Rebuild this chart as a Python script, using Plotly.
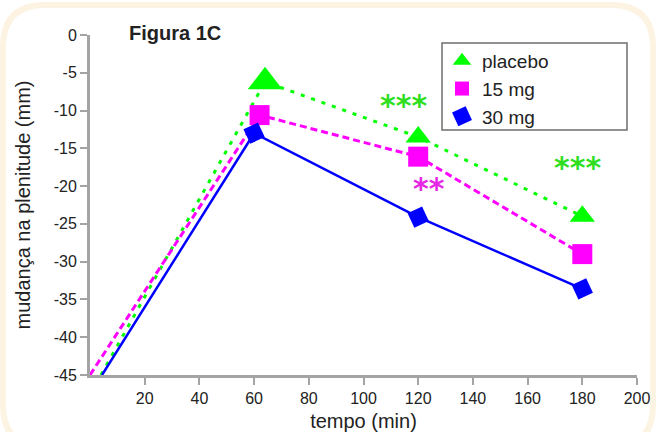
import plotly.graph_objects as go

# ---- data ----
placebo_x = [4, 64, 120, 180]
placebo_y = [-45, -6.2, -13.5, -24.0]
mg15_x = [0, 62, 120, 180]
mg15_y = [-45, -10.6, -16.1, -29.0]
mg30_x = [4.4, 60, 120, 180]
mg30_y = [-45, -13.0, -24.1, -33.6]

series_names = ["placebo", "15 mg", "30 mg"]
x_ticks = [20, 40, 60, 80, 100, 120, 140, 160, 180, 200]
y_ticks = [0, -5, -10, -15, -20, -25, -30, -35, -40, -45]
y_tick_labels = [str(v) for v in y_ticks]  # plain hyphen, as in the reference

# significance marks
sig_x = [114.8, 124.0, 178.4]
sig_y = [-8.6, -19.9, -16.7]
sig_text = ["***", "**", "***"]

FONT = "Liberation Sans, Arial, sans-serif"
GREEN = "#00ff00"
MAGENTA = "#ff00ff"
BLUE = "#0000ff"
AXIS = "#a4a4a4"

W, H = 656, 432
L, R, T, B = 90, 19, 35, 57
PW, PH = W - L - R, H - T - B

def px(x):
    return (x - L) / PW

def py(y):
    return (H - B - y) / PH

fig = go.Figure()

fig.add_trace(go.Scatter(
    x=placebo_x, y=placebo_y, mode="lines+markers", showlegend=False,
    line=dict(color=GREEN, width=3, dash="4px,7px"),
    marker=dict(symbol="triangle-up", color=GREEN, size=[0, 30, 22, 22], opacity=1,
                line=dict(width=0)),
    cliponaxis=False))
fig.add_trace(go.Scatter(
    x=mg15_x, y=mg15_y, mode="lines+markers", showlegend=False,
    line=dict(color=MAGENTA, width=3, dash="7px,4px"),
    marker=dict(symbol="square", color=MAGENTA, size=[0, 20, 20, 20], opacity=1,
                line=dict(width=0)),
    cliponaxis=False))
fig.add_trace(go.Scatter(
    x=mg30_x, y=mg30_y, mode="lines+markers", showlegend=False,
    line=dict(color=BLUE, width=2.5),
    marker=dict(symbol="square", color=BLUE, size=[0, 16, 16, 16], angle=-25, opacity=1,
                line=dict(width=0)),
    cliponaxis=False))

# legend-only traces (marker only, like the reference legend)
fig.add_trace(go.Scatter(x=[None], y=[None], mode="markers", name=series_names[0],
                         marker=dict(symbol="triangle-up", color=GREEN, size=18)))
fig.add_trace(go.Scatter(x=[None], y=[None], mode="markers", name=series_names[1],
                         marker=dict(symbol="square", color=MAGENTA, size=14)))
fig.add_trace(go.Scatter(x=[None], y=[None], mode="markers", name=series_names[2],
                         marker=dict(symbol="square", color=BLUE, size=15, angle=-25)))

annotations = []
sig_colors = ["#2fdf1f", "#e627e6", "#2fdf1f"]
sig_shift = [-6, -3, -6]
for xv, yv, t, c, s in zip(sig_x, sig_y, sig_text, sig_colors, sig_shift):
    annotations.append(dict(x=xv, y=yv, xref="x", yref="y", text=f"<b>{t}</b>", showarrow=False,
                            font=dict(family="DejaVu Sans", size=30, color=c),
                            xanchor="center", yanchor="middle", yshift=s))
annotations.append(dict(x=px(175), y=py(33), xref="paper", yref="paper",
                        text="<b>Figura 1C</b>", showarrow=False,
                        font=dict(family=FONT, size=20, color="#222222"),
                        xanchor="center", yanchor="middle"))

# rounded beige frame around the whole figure
x0, x1, y0, y1, r = 3, 653, 5, 447, 42
path = (f"M {px(x0 + r)},{py(y0)} L {px(x1 - r)},{py(y0)} "
        f"Q {px(x1)},{py(y0)} {px(x1)},{py(y0 + r)} "
        f"L {px(x1)},{py(y1 - r)} Q {px(x1)},{py(y1)} {px(x1 - r)},{py(y1)} "
        f"L {px(x0 + r)},{py(y1)} Q {px(x0)},{py(y1)} {px(x0)},{py(y1 - r)} "
        f"L {px(x0)},{py(y0 + r)} Q {px(x0)},{py(y0)} {px(x0 + r)},{py(y0)} Z")
shapes = [
    dict(type="path", xref="paper", yref="paper", path=path,
         line=dict(color="#fdf3e3", width=6), layer="below"),
    # legend frame
    dict(type="rect", xref="paper", yref="paper",
         x0=px(442), x1=px(627), y0=py(43), y1=py(130),
         fillcolor="white", line=dict(color="#6e6e6e", width=1.5), layer="above"),
]

fig.update_layout(
    width=W, height=H,
    margin=dict(l=L, r=R, t=T, b=B, pad=0, autoexpand=False),
    paper_bgcolor="white", plot_bgcolor="white",
    font=dict(family=FONT, size=16, color="#222222"),
    showlegend=True,
    legend=dict(x=px(442), y=py(42), xanchor="left", yanchor="top",
                bgcolor="rgba(0,0,0,0)", borderwidth=0,
                font=dict(family=FONT, size=19, color="#222222"),
                itemsizing="trace"),
    annotations=annotations,
    shapes=shapes,
    xaxis=dict(range=[0, 200], tickvals=x_ticks, showgrid=False, zeroline=False,
               automargin=False,
               showline=True, linecolor=AXIS, linewidth=3,
               ticks="outside", ticklen=7, tickwidth=2, tickcolor=AXIS,
               tickfont=dict(size=16),
               title=dict(text="tempo (min)", font=dict(size=20), standoff=16)),
    yaxis=dict(range=[-45, 0], tickvals=y_ticks, ticktext=y_tick_labels,
               showgrid=False, zeroline=False, automargin=False,
               showline=True, linecolor=AXIS, linewidth=3,
               ticks="outside", ticklen=7, tickwidth=2, tickcolor=AXIS,
               tickfont=dict(size=16),
               title=dict(text="mudança na plenitude (mm)", font=dict(size=20), standoff=18)),
)

fig.write_html("out.html")
